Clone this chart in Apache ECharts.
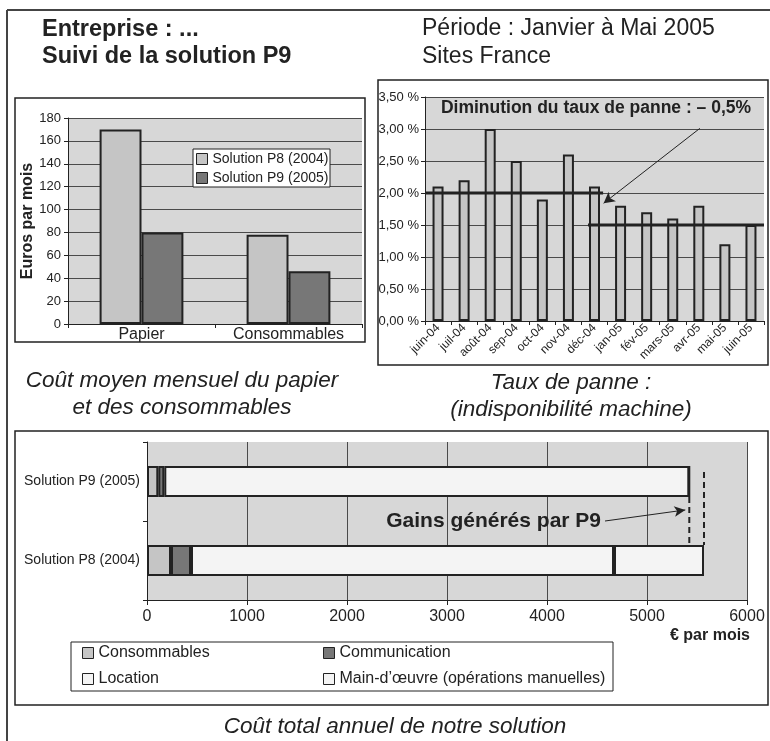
<!DOCTYPE html>
<html>
<head>
<meta charset="utf-8">
<script src="https://cdn.jsdelivr.net/npm/echarts@6/dist/echarts.min.js"></script>
<style>
  html, body { margin: 0; padding: 0; background: #fff; }
  #chart { width: 770px; height: 741px; }
</style>
</head>
<body>
<div id="chart"></div>
<script>
// ---- Coût moyen mensuel du papier et des consommables (€ par mois)
const costCategories = ['Papier', 'Consommables'];
const costSeriesNames = ['Solution P8 (2004)', 'Solution P9 (2005)'];
const costP8 = [170, 78];
const costP9 = [80, 46];

// ---- Taux de panne mensuel (%)
const months = ['juin-04', 'juil-04', 'août-04', 'sep-04', 'oct-04', 'nov-04', 'déc-04',
                'jan-05', 'fév-05', 'mars-05', 'avr-05', 'mai-05', 'juin-05'];
const failureRate = [2.1, 2.2, 3.0, 2.5, 1.9, 2.6, 2.1, 1.8, 1.7, 1.6, 1.8, 1.2, 1.5];
const avgRateBefore = 2.0;
const avgRateAfter = 1.5;

// ---- Coût total par solution (€ par mois)
const solutions = ['Solution P8 (2004)', 'Solution P9 (2005)'];
const totalSeriesNames = ['Consommables', 'Communication', 'Location', 'Main-d’œuvre (opérations manuelles)'];
const costConsommables = [240, 113];
const costCommunication = [200, 60];
const costLocation = [4230, 5250];
const costMainOeuvre = [900, 0];

const FONT = '"Liberation Sans", Arial, Helvetica, sans-serif';
const INK = '#222';
const PLOT_BG = '#d7d7d7';
const GRID_LINE = '#4a4a4a';

const totals = solutions.map((_, i) =>
  costConsommables[i] + costCommunication[i] + costLocation[i] + costMainOeuvre[i]);
const totalP8 = totals[0];
const totalP9 = totals[1];

// Bottom chart: bar thickness relative to a category band (in band units)
const BOTTOM_GRID_H = 158;
const BOTTOM_BAR_W = 31;
const bandHalf = BOTTOM_BAR_W / 2 / (BOTTOM_GRID_H / solutions.length);
const p9Bottom = 1.5 - bandHalf;
const p8Top = 0.5 + bandHalf;

const chart = echarts.init(document.getElementById('chart'), null, { renderer: 'canvas' });

function rateLabel(v) {
  return v.toFixed(2).replace('.', ',') + ' %';
}

const boxStyle = { fill: 'none', stroke: INK, lineWidth: 1.5 };

function caption(text, x, y) {
  return {
    type: 'text', x: x, y: y, silent: true,
    style: {
      text: text, fill: INK, fontFamily: FONT, fontSize: 22.5, fontStyle: 'italic',
      align: 'center', verticalAlign: 'middle', lineHeight: 27
    }
  };
}

function legendBlock(names, left, top, size, gap) {
  return {
    data: names, orient: 'vertical', left: left, top: top, padding: 0,
    icon: 'rect', itemWidth: 11, itemHeight: 11, itemGap: gap,
    itemStyle: { borderColor: INK, borderWidth: 1 },
    textStyle: { fontFamily: FONT, fontSize: size, color: INK, lineHeight: size },
    selectedMode: false, z: 10
  };
}

const option = {
  animation: false,
  textStyle: { fontFamily: FONT, color: INK },
  title: [
    {
      text: 'Entreprise : ...\nSuivi de la solution P9',
      left: 42, top: 16, padding: 0,
      textStyle: { fontFamily: FONT, fontSize: 23.5, fontWeight: 'bold', color: INK, lineHeight: 27 }
    },
    {
      text: 'Période : Janvier à Mai 2005\nSites France',
      left: 422, top: 15, padding: 0,
      textStyle: { fontFamily: FONT, fontSize: 23, fontWeight: 'normal', color: INK, lineHeight: 28 }
    }
  ],
  legend: [
    legendBlock(costSeriesNames, 196, 152, 14, 5),
    legendBlock([totalSeriesNames[0], totalSeriesNames[2]], 82, 645, 16, 10),
    legendBlock([totalSeriesNames[1], totalSeriesNames[3]], 323, 645, 16, 10)
  ],
  grid: [
    { left: 68, top: 118, width: 294, height: 206, show: true, backgroundColor: PLOT_BG, borderWidth: 0 },
    { left: 425, top: 97, width: 339, height: 224, show: true, backgroundColor: PLOT_BG, borderWidth: 0 },
    { left: 147, top: 442, width: 600, height: BOTTOM_GRID_H, show: true, backgroundColor: PLOT_BG, borderWidth: 0 }
  ],
  xAxis: [
    {
      type: 'category', gridIndex: 0, data: costCategories,
      axisLine: { lineStyle: { color: INK, width: 1 } },
      axisTick: { show: true, length: 4, lineStyle: { color: INK } },
      axisLabel: { fontFamily: FONT, fontSize: 16, color: INK, margin: 3 }
    },
    {
      type: 'category', gridIndex: 1, data: months,
      axisLine: { lineStyle: { color: INK, width: 1 } },
      axisTick: { show: true, length: 4, lineStyle: { color: INK } },
      axisLabel: { fontFamily: FONT, fontSize: 12, color: INK, rotate: 45, margin: 5, interval: 0 }
    },
    {
      type: 'value', gridIndex: 2, min: 0, max: 6000, interval: 1000,
      axisLine: { show: true, lineStyle: { color: INK, width: 1 } },
      axisTick: { show: true, length: 5, lineStyle: { color: INK } },
      splitLine: { show: true, lineStyle: { color: GRID_LINE, width: 1 } },
      axisLabel: { fontFamily: FONT, fontSize: 16, color: INK, margin: 9, formatter: v => String(v) }
    },
    {
      // hidden continuous axis over the month bands, used for the average lines
      type: 'value', gridIndex: 1, min: 0, max: months.length, show: false
    }
  ],
  yAxis: [
    {
      type: 'value', gridIndex: 0, min: 0, max: 180, interval: 20,
      name: 'Euros par mois', nameLocation: 'middle', nameGap: 32, nameRotate: 90,
      nameTextStyle: { fontFamily: FONT, fontSize: 16, fontWeight: 'bold', color: INK },
      axisLine: { show: true, lineStyle: { color: INK, width: 1 } },
      axisTick: { show: true, length: 4, lineStyle: { color: INK } },
      splitLine: { show: true, lineStyle: { color: GRID_LINE, width: 1 } },
      axisLabel: { fontFamily: FONT, fontSize: 13, color: INK, margin: 7 }
    },
    {
      type: 'value', gridIndex: 1, min: 0, max: 3.5, interval: 0.5,
      axisLine: { show: true, lineStyle: { color: INK, width: 1 } },
      axisTick: { show: true, length: 4, lineStyle: { color: INK } },
      splitLine: { show: true, lineStyle: { color: GRID_LINE, width: 1 } },
      axisLabel: { fontFamily: FONT, fontSize: 13, color: INK, margin: 6, formatter: rateLabel }
    },
    {
      type: 'category', gridIndex: 2, data: solutions,
      axisLine: { show: true, lineStyle: { color: INK, width: 1 } },
      axisTick: { show: true, length: 4, lineStyle: { color: INK } },
      axisLabel: { fontFamily: FONT, fontSize: 14, color: INK, margin: 7 }
    },
    {
      // hidden continuous axis over the solution bands, used for the gain markers
      type: 'value', gridIndex: 2, min: 0, max: solutions.length, show: false
    }
  ],
  series: [
    {
      name: costSeriesNames[0], type: 'bar', xAxisIndex: 0, yAxisIndex: 0, data: costP8,
      barGap: '0%', barCategoryGap: '43%',
      itemStyle: { color: '#c5c5c5', borderColor: INK, borderWidth: 2 }
    },
    {
      name: costSeriesNames[1], type: 'bar', xAxisIndex: 0, yAxisIndex: 0, data: costP9,
      barGap: '0%', barCategoryGap: '43%',
      itemStyle: { color: '#777777', borderColor: INK, borderWidth: 2 }
    },
    {
      name: 'Taux de panne', type: 'bar', xAxisIndex: 1, yAxisIndex: 1, data: failureRate,
      barWidth: 11,
      itemStyle: { color: '#c5c5c5', borderColor: INK, borderWidth: 2 }
    },
    {
      type: 'line', xAxisIndex: 3, yAxisIndex: 1, z: 5, silent: true, showSymbol: false,
      lineStyle: { color: INK, width: 3 },
      data: [[0, avgRateBefore], [6.83, avgRateBefore]]
    },
    {
      type: 'line', xAxisIndex: 3, yAxisIndex: 1, z: 5, silent: true, showSymbol: false,
      lineStyle: { color: INK, width: 3 },
      data: [[6.25, avgRateAfter], [months.length, avgRateAfter]],
      markLine: {
        silent: true, symbol: ['none', 'arrow'], symbolSize: [9, 11],
        lineStyle: { color: INK, width: 1, type: 'solid' },
        label: { show: false },
        data: [[{ coord: [10.54, 3.01] }, { coord: [6.85, 1.84] }]]
      }
    },
    {
      name: totalSeriesNames[0], type: 'bar', stack: 'total', xAxisIndex: 2, yAxisIndex: 2,
      data: costConsommables, barWidth: BOTTOM_BAR_W,
      itemStyle: { color: '#c5c5c5', borderColor: INK, borderWidth: 2 }
    },
    {
      name: totalSeriesNames[1], type: 'bar', stack: 'total', xAxisIndex: 2, yAxisIndex: 2,
      data: costCommunication, barWidth: BOTTOM_BAR_W,
      itemStyle: { color: '#777777', borderColor: INK, borderWidth: 2 }
    },
    {
      name: totalSeriesNames[2], type: 'bar', stack: 'total', xAxisIndex: 2, yAxisIndex: 2,
      data: costLocation, barWidth: BOTTOM_BAR_W,
      itemStyle: { color: '#f4f4f4', borderColor: INK, borderWidth: 2 }
    },
    {
      name: totalSeriesNames[3], type: 'bar', stack: 'total', xAxisIndex: 2, yAxisIndex: 2,
      data: costMainOeuvre, barWidth: BOTTOM_BAR_W,
      itemStyle: { color: '#f4f4f4', borderColor: INK, borderWidth: 2 }
    },
    {
      type: 'line', xAxisIndex: 2, yAxisIndex: 3, z: 5, silent: true, showSymbol: false,
      lineStyle: { color: INK, width: 2, type: [6, 4] },
      data: [[totalP9, p9Bottom], [totalP9, p8Top]]
    },
    {
      type: 'line', xAxisIndex: 2, yAxisIndex: 3, z: 5, silent: true, showSymbol: false,
      lineStyle: { color: INK, width: 2, type: [6, 4] },
      data: [[totalP8, 1.62], [totalP8, p8Top]],
      markLine: {
        silent: true, symbol: ['none', 'arrow'], symbolSize: [8, 11],
        lineStyle: { color: INK, width: 1, type: 'solid' },
        label: { show: false },
        data: [[{ coord: [4580, 1.0] }, { coord: [totalP9 - 40, 1.14] }]]
      }
    }
  ],
  graphic: [
    // outer frame
    { type: 'line', silent: true, shape: { x1: 7, y1: 10, x2: 770, y2: 10 }, style: { stroke: '#444', lineWidth: 2 } },
    { type: 'line', silent: true, shape: { x1: 7, y1: 10, x2: 7, y2: 741 }, style: { stroke: '#444', lineWidth: 2 } },
    // chart boxes
    { type: 'rect', silent: true, shape: { x: 15, y: 98, width: 350, height: 244 }, style: boxStyle },
    { type: 'rect', silent: true, shape: { x: 378, y: 80, width: 390, height: 285 }, style: boxStyle },
    { type: 'rect', silent: true, shape: { x: 15, y: 431, width: 753, height: 274 }, style: boxStyle },
    // legend frames
    { type: 'rect', silent: true, z: 3, shape: { x: 193, y: 149, width: 137, height: 38 }, style: { fill: '#fff', stroke: INK, lineWidth: 1 } },
    { type: 'rect', silent: true, z: 3, shape: { x: 71, y: 642, width: 542, height: 49 }, style: { fill: '#fff', stroke: INK, lineWidth: 1 } },
    // annotations
    {
      type: 'text', x: 596, y: 108, silent: true, z: 100,
      style: { text: 'Diminution du taux de panne : – 0,5%', fill: INK, fontFamily: FONT, fontSize: 17.5,
               fontWeight: 'bold', align: 'center', verticalAlign: 'middle' }
    },
    {
      type: 'text', x: 601, y: 521, silent: true, z: 100,
      style: { text: 'Gains générés par P9', fill: INK, fontFamily: FONT, fontSize: 21,
               fontWeight: 'bold', align: 'right', verticalAlign: 'middle' }
    },
    {
      type: 'text', x: 750, y: 636, silent: true, z: 100,
      style: { text: '€ par mois', fill: INK, fontFamily: FONT, fontSize: 16,
               fontWeight: 'bold', align: 'right', verticalAlign: 'middle' }
    },
    // captions
    caption('Coût moyen mensuel du papier\net des consommables', 182, 394),
    caption('Taux de panne :\n(indisponibilité machine)', 571, 396),
    caption('Coût total annuel de notre solution', 395, 727)
  ]
};

chart.setOption(option);
</script>
</body>
</html>
